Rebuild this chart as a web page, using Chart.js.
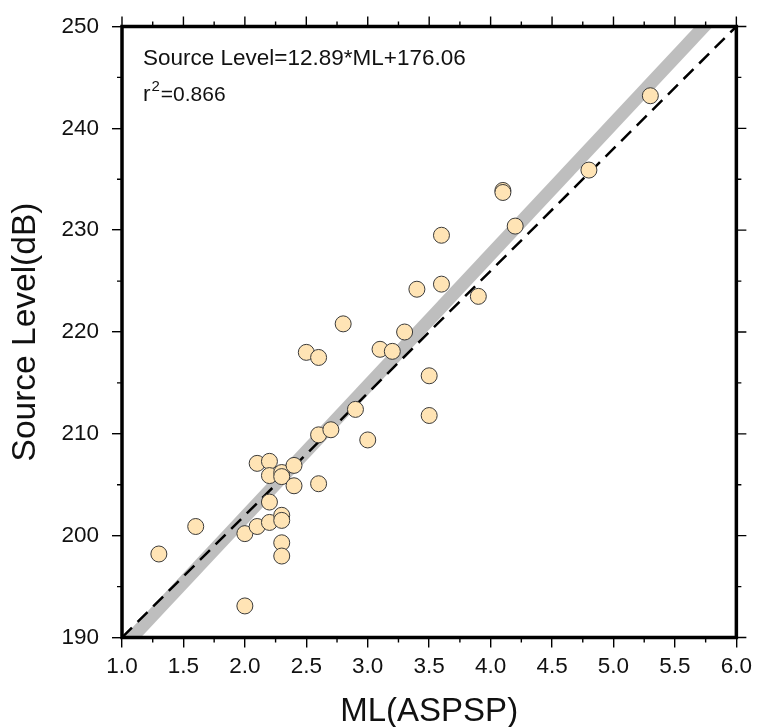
<!DOCTYPE html>
<html>
<head>
<meta charset="utf-8">
<script src="https://cdn.jsdelivr.net/npm/chart.js@4/dist/chart.umd.min.js"></script>
<style>
  html, body { margin: 0; padding: 0; background: #fff; }
  #c { display: block; }
</style>
</head>
<body>
<canvas id="c" width="758" height="727"></canvas>
<script>
// Local magnitude vs. source level of the events
const mlValues = [
  1.3, 1.6, 2.0, 2.0, 2.1, 2.1, 2.2, 2.2, 2.2, 2.2,
  2.3, 2.3, 2.3, 2.3, 2.3, 2.3, 2.4, 2.4, 2.5, 2.6,
  2.6, 2.6, 2.7, 2.8, 2.9, 3.0, 3.1, 3.2, 3.3, 3.4,
  3.5, 3.5, 3.6, 3.6, 3.9, 4.1, 4.1, 4.2, 4.8, 5.3
];
const sourceLevels = [
  198.2, 200.9, 193.1, 200.2, 200.9, 207.1, 207.3, 205.9, 203.3, 201.3,
  206.2, 205.8, 202.0, 201.5, 199.3, 198.0, 206.9, 204.9, 218.0, 217.5,
  209.9, 205.1, 210.4, 220.8, 212.4, 209.4, 218.3, 218.1, 220.0, 224.2,
  215.7, 211.8, 229.5, 224.7, 223.5, 233.9, 233.7, 230.4, 235.9, 243.2
];

// Axis ranges and tick spacing
const xRange = [1.0, 6.0];
const yRange = [190, 250];
const xMajorStep = 0.5, xMinorStep = 0.25;
const yMajorStep = 10, yMinorStep = 5;

// Least-squares fit
const fitSlope = 12.89;
const fitIntercept = 176.06;
const rSquared = 0.866;

const FONT = "'Liberation Sans', Arial, Helvetica, sans-serif";
const INK = '#111';

const scatterPoints = mlValues.map((m, i) => ({ x: m, y: sourceLevels[i] }));
const fitLine = xRange.map(x => ({ x: x, y: fitSlope * x + fitIntercept }));
const diagonal = [{ x: xRange[0], y: yRange[0] }, { x: xRange[1], y: yRange[1] }];

// Frame, minor ticks and mirrored ticks on the top/right sides
const framePlugin = {
  id: 'frame',
  afterDraw(chart) {
    const { ctx, chartArea: a, scales: { x, y } } = chart;
    ctx.save();
    ctx.strokeStyle = '#000';
    ctx.lineWidth = 1.4;
    ctx.beginPath();
    const nx = Math.round((xRange[1] - xRange[0]) / xMinorStep);
    for (let i = 0; i <= nx; i++) {
      const v = xRange[0] + i * xMinorStep;
      const px = x.getPixelForValue(v);
      const major = Math.abs(v / xMajorStep - Math.round(v / xMajorStep)) < 1e-6;
      const len = major ? 10 : 5;
      if (!major) { ctx.moveTo(px, a.bottom); ctx.lineTo(px, a.bottom + len); }
      ctx.moveTo(px, a.top); ctx.lineTo(px, a.top - len);
    }
    const ny = Math.round((yRange[1] - yRange[0]) / yMinorStep);
    for (let i = 0; i <= ny; i++) {
      const v = yRange[0] + i * yMinorStep;
      const py = y.getPixelForValue(v);
      const major = Math.abs(v / yMajorStep - Math.round(v / yMajorStep)) < 1e-6;
      const len = major ? 10 : 5;
      if (!major) { ctx.moveTo(a.left, py); ctx.lineTo(a.left - len, py); }
      ctx.moveTo(a.right, py); ctx.lineTo(a.right + len, py);
    }
    ctx.stroke();

    ctx.lineWidth = 3.5;
    ctx.strokeRect(a.left, a.top, a.right - a.left, a.bottom - a.top);

    // Regression annotation
    ctx.fillStyle = INK;
    ctx.textBaseline = 'alphabetic';
    ctx.textAlign = 'left';
    ctx.font = '22.5px ' + FONT;
    const tx = a.left + 21;
    ctx.fillText('Source Level=' + fitSlope.toFixed(2) + '*ML+' + fitIntercept.toFixed(2), tx, a.top + 38);
    const by = a.top + 74;
    ctx.fillText('r', tx, by);
    const rw = ctx.measureText('r').width;
    ctx.font = '15px ' + FONT;
    ctx.fillText('2', tx + rw + 1, by - 10);
    const sw = ctx.measureText('2').width;
    ctx.font = '21px ' + FONT;
    ctx.fillText('=' + rSquared.toFixed(3), tx + rw + sw + 2, by);
    ctx.restore();
  }
};

new Chart(document.getElementById('c'), {
  type: 'scatter',
  data: {
    datasets: [
      {
        label: 'events',
        data: scatterPoints,
        pointRadius: 8,
        pointHoverRadius: 8,
        pointBackgroundColor: '#FFE4B5',
        pointBorderColor: '#3a3a3a',
        pointBorderWidth: 1,
        showLine: false
      },
      {
        label: '1:1',
        data: diagonal,
        showLine: true,
        borderColor: '#000',
        borderWidth: 2.5,
        borderDash: [14, 8],
        pointRadius: 0,
        clip: 0
      },
      {
        label: 'fit',
        data: fitLine,
        showLine: true,
        borderColor: '#BEBEBE',
        borderWidth: 13,
        pointRadius: 0,
        clip: 0
      }
    ]
  },
  options: {
    responsive: false,
    animation: false,
    events: [],
    devicePixelRatio: 1,
    layout: { padding: { top: 23, right: 21.5, left: 0, bottom: 0 } },
    plugins: { legend: { display: false }, tooltip: { enabled: false } },
    scales: {
      x: {
        type: 'linear',
        min: xRange[0],
        max: xRange[1],
        afterFit(s) { s.height = 89.5; },
        border: { display: false },
        grid: { display: true, drawOnChartArea: false, drawTicks: true, tickLength: 10, color: '#000', lineWidth: 1.4 },
        ticks: {
          stepSize: xMajorStep,
          padding: 6,
          color: INK,
          font: { family: FONT, size: 22.5 },
          callback: v => Number(v).toFixed(1)
        },
        title: { display: true, text: 'ML(ASPSP)', color: INK, font: { family: FONT, size: 33 }, padding: { top: 0, bottom: -5 } }
      },
      y: {
        type: 'linear',
        min: yRange[0],
        max: yRange[1],
        afterFit(s) { s.width = 122; },
        border: { display: false },
        grid: { display: true, drawOnChartArea: false, drawTicks: true, tickLength: 10, color: '#000', lineWidth: 1.4 },
        ticks: {
          stepSize: yMajorStep,
          padding: 13,
          color: INK,
          font: { family: FONT, size: 22.5 }
        },
        title: { display: true, text: 'Source Level(dB)', color: INK, font: { family: FONT, size: 33.5 }, padding: { top: 6, bottom: 0 } }
      }
    }
  },
  plugins: [framePlugin]
});
</script>
</body>
</html>
